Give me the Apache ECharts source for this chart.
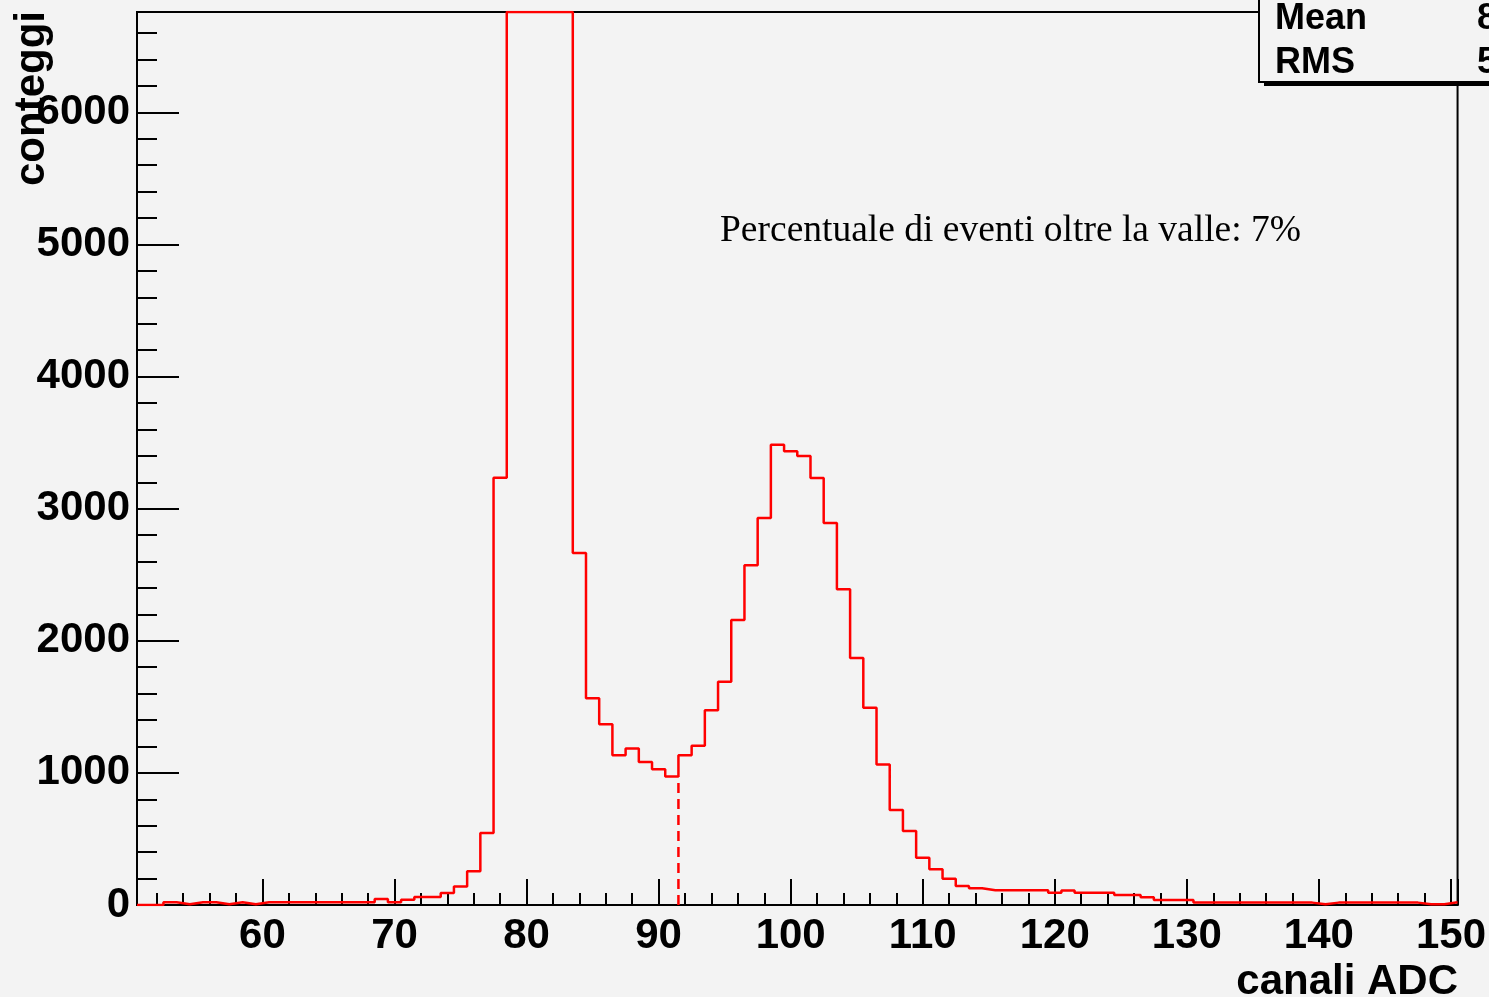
<!DOCTYPE html>
<html>
<head>
<meta charset="utf-8">
<script src="https://cdn.jsdelivr.net/npm/echarts@6/dist/echarts.min.js"></script>
<style>
  html, body { margin: 0; padding: 0; background: #f3f3f3; }
  #chart { width: 1489px; height: 997px; }
</style>
</head>
<body>
<div id="chart"></div>
<script>
// ADC channel at the centre of each bin (bins are 1 channel wide)
const channels = [
  51, 52, 53, 54, 55, 56, 57, 58, 59, 60,
  61, 62, 63, 64, 65, 66, 67, 68, 69, 70,
  71, 72, 73, 74, 75, 76, 77, 78, 79, 80,
  81, 82, 83, 84, 85, 86, 87, 88, 89, 90,
  91, 92, 93, 94, 95, 96, 97, 98, 99, 100,
  101, 102, 103, 104, 105, 106, 107, 108, 109, 110,
  111, 112, 113, 114, 115, 116, 117, 118, 119, 120,
  121, 122, 123, 124, 125, 126, 127, 128, 129, 130,
  131, 132, 133, 134, 135, 136, 137, 138, 139, 140,
  141, 142, 143, 144, 145, 146, 147, 148, 149, 150
];

// counts per channel
const counts = [
  0, 0, 20, 5, 20, 20, 5, 20, 5, 20,
  20, 20, 20, 20, 20, 20, 20, 20, 45, 20,
  40, 60, 60, 90, 140, 255, 545, 3235, 42000, 150000,
  185000, 110000, 35000, 2665, 1566, 1369, 1134, 1184, 1083, 1028,
  972, 1134, 1205, 1475, 1690, 2158, 2572, 2929, 3485, 3434,
  3399, 3232, 2891, 2391, 1870, 1493, 1064, 720, 561, 358,
  270, 199, 144, 126, 111, 111, 111, 111, 111, 92,
  110, 92, 92, 92, 76, 76, 58, 38, 38, 38,
  18, 18, 18, 18, 18, 18, 18, 18, 18, 5,
  18, 18, 18, 18, 18, 18, 18, 5, 5, 20
];

// tick labels
const xTickLabels = [60, 70, 80, 90, 100, 110, 120, 130, 140, 150];
const yTickLabels = [0, 1000, 2000, 3000, 4000, 5000, 6000];

// axis ranges and the cut between the two peaks
const xRange = [50.5, 150.5];
const yRange = [0, 6760];
const valleyEdge = 91.5;

// statistics shown in the box
let total = 0, sx = 0, sxx = 0, above = 0;
channels.forEach((c, i) => {
  const n = counts[i];
  total += n; sx += c * n; sxx += c * c * n;
  if (c > valleyEdge) above += n;
});
const mean = sx / total;
const rms = Math.sqrt(sxx / total - mean * mean);
const pctAbove = Math.round(100 * above / total);

// step outline of the histogram; bins taller than the frame are drawn along its top
const outline = [];
channels.forEach((c, i) => {
  const v = Math.min(counts[i], yRange[1]);
  outline.push([c - 0.5, v], [c + 0.5, v]);
});

// dashed marker at the valley, up to the last bin before the cut
const valleyBin = channels.indexOf(Math.floor(valleyEdge));
const valleyLine = [[valleyEdge, 0], [valleyEdge, counts[valleyBin]]];

const axisFont = { fontFamily: 'Liberation Sans', fontWeight: 'bold', fontSize: 42, color: '#000' };
const black = { color: '#000', width: 2 };

const chart = echarts.init(document.getElementById('chart'), null, { renderer: 'canvas' });

chart.setOption({
  backgroundColor: '#f3f3f3',
  animation: false,
  grid: {
    left: 137, right: 31, top: 12, bottom: 92,
    show: true, borderColor: '#000', borderWidth: 2, backgroundColor: 'transparent'
  },
  xAxis: [
    {
      type: 'value', min: xRange[0], max: xRange[1],
      splitNumber: 10, minInterval: 10, maxInterval: 10,
      axisLine: { show: true, lineStyle: black },
      axisTick: { show: true, inside: true, length: 26, lineStyle: black },
      axisLabel: Object.assign({
        margin: 10,
        formatter: v => (xTickLabels.indexOf(v) >= 0 ? String(v) : '')
      }, axisFont),
      splitLine: { show: false }
    },
    {
      type: 'value', position: 'bottom', min: xRange[0], max: xRange[1],
      splitNumber: 50, minInterval: 2, maxInterval: 2,
      axisLine: { show: false },
      axisTick: { show: true, inside: true, length: 12, lineStyle: black },
      axisLabel: { show: false },
      splitLine: { show: false }
    }
  ],
  yAxis: [
    {
      type: 'value', min: yRange[0], max: yRange[1], interval: 1000,
      axisLine: { show: true, lineStyle: black },
      axisTick: { show: true, inside: true, length: 42, lineStyle: black },
      axisLabel: Object.assign({
        margin: 7,
        formatter: v => (yTickLabels.indexOf(v) >= 0 ? String(v) : '')
      }, axisFont),
      splitLine: { show: false }
    },
    {
      type: 'value', position: 'left', min: yRange[0], max: yRange[1], interval: 200,
      axisLine: { show: false },
      axisTick: { show: true, inside: true, length: 20, lineStyle: black },
      axisLabel: { show: false },
      splitLine: { show: false }
    }
  ],
  series: [
    {
      type: 'line', xAxisIndex: 0, yAxisIndex: 0, z: 5,
      data: outline, symbol: 'none',
      lineStyle: { color: '#ff0000', width: 2.5 }
    },
    {
      type: 'line', xAxisIndex: 0, yAxisIndex: 0, z: 5,
      data: valleyLine, symbol: 'none',
      lineStyle: { color: '#ff0000', width: 2.5, type: [10, 6] }
    }
  ],
  graphic: [
    {
      type: 'text', z: 50, x: 32, y: 11, rotation: Math.PI / 2,
      style: {
        text: 'conteggi', fill: '#000',
        font: 'bold 42px "Liberation Sans"',
        align: 'right', verticalAlign: 'middle',
        textAlign: 'right', textVerticalAlign: 'middle'
      }
    },
    {
      type: 'text', z: 50, x: 1458, y: 982,
      style: {
        text: 'canali ADC', fill: '#000',
        font: 'bold 42px "Liberation Sans"',
        align: 'right', verticalAlign: 'middle',
        textAlign: 'right', textVerticalAlign: 'middle'
      }
    },
    {
      type: 'text', z: 50, x: 720, y: 231,
      style: {
        text: 'Percentuale di eventi oltre la valle: ' + pctAbove + '%', fill: '#000',
        font: '37.5px "Liberation Serif"',
        align: 'left', verticalAlign: 'middle',
        textAlign: 'left', textVerticalAlign: 'middle'
      }
    },
    // statistics box with its shadow
    {
      type: 'rect', z: 60, shape: { x: 1264, y: -10, width: 320, height: 96 },
      style: { fill: '#000' }
    },
    {
      type: 'rect', z: 61, shape: { x: 1259, y: -10, width: 320, height: 92 },
      style: { fill: '#f3f3f3', stroke: '#000', lineWidth: 2 }
    },
    {
      type: 'text', z: 62, x: 1275, y: 19,
      style: { text: 'Mean', fill: '#000', font: 'bold 36px "Liberation Sans"',
        align: 'left', verticalAlign: 'middle', textAlign: 'left', textVerticalAlign: 'middle' }
    },
    {
      type: 'text', z: 62, x: 1275, y: 63,
      style: { text: 'RMS', fill: '#000', font: 'bold 36px "Liberation Sans"',
        align: 'left', verticalAlign: 'middle', textAlign: 'left', textVerticalAlign: 'middle' }
    },
    {
      type: 'text', z: 62, x: 1477, y: 19,
      style: { text: mean.toPrecision(4), fill: '#000', font: 'bold 36px "Liberation Sans"',
        align: 'left', verticalAlign: 'middle', textAlign: 'left', textVerticalAlign: 'middle' }
    },
    {
      type: 'text', z: 62, x: 1477, y: 63,
      style: { text: rms.toPrecision(4), fill: '#000', font: 'bold 36px "Liberation Sans"',
        align: 'left', verticalAlign: 'middle', textAlign: 'left', textVerticalAlign: 'middle' }
    }
  ]
});
</script>
</body>
</html>
